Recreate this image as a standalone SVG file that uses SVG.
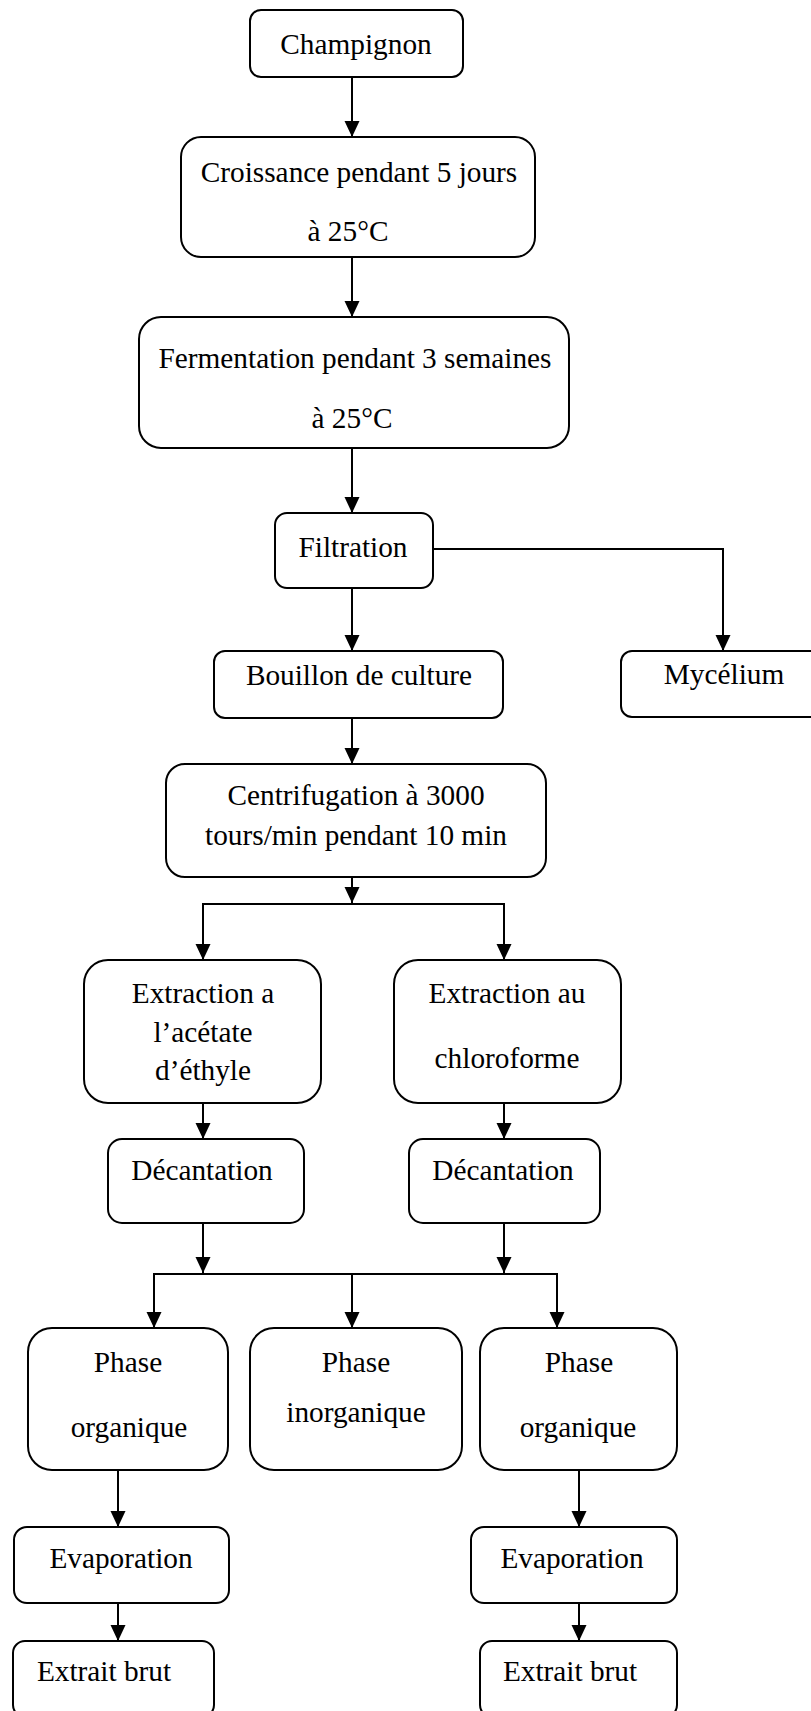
<svg xmlns="http://www.w3.org/2000/svg" width="811" height="1711" viewBox="0 0 811 1711">
<style>
.box{fill:#fff;stroke:#000;stroke-width:2}
.t{font-family:"Liberation Serif","Times New Roman",serif;font-size:29.3px;fill:#000;text-anchor:middle}
.c{fill:none;stroke:#000;stroke-width:2}
</style>
<defs>
<marker id="ah" markerUnits="userSpaceOnUse" markerWidth="16" markerHeight="16" refX="16" refY="7.5" orient="auto">
<path d="M0,0 L16,7.5 L0,15 z" fill="#000"/>
</marker>
</defs>
<rect width="811" height="1711" fill="#fff"/>
<g id="connectors">
<line class="c" x1="352" y1="77" x2="352" y2="137" marker-end="url(#ah)"/>
<line class="c" x1="352" y1="257" x2="352" y2="317" marker-end="url(#ah)"/>
<line class="c" x1="352" y1="448" x2="352" y2="513" marker-end="url(#ah)"/>
<line class="c" x1="352" y1="588" x2="352" y2="651" marker-end="url(#ah)"/>
<polyline class="c" points="433,549 723,549 723,651" marker-end="url(#ah)"/>
<line class="c" x1="352" y1="718" x2="352" y2="764" marker-end="url(#ah)"/>
<line class="c" x1="352" y1="877" x2="352" y2="903" marker-end="url(#ah)"/>
<polyline class="c" points="203,960 203,904 504,904 504,960" marker-end="url(#ah)"/>
<line class="c" x1="203" y1="904" x2="203" y2="960" marker-end="url(#ah)"/>
<line class="c" x1="203" y1="1103" x2="203" y2="1139" marker-end="url(#ah)"/>
<line class="c" x1="504" y1="1103" x2="504" y2="1139" marker-end="url(#ah)"/>
<line class="c" x1="203" y1="1223" x2="203" y2="1273" marker-end="url(#ah)"/>
<line class="c" x1="504" y1="1223" x2="504" y2="1273" marker-end="url(#ah)"/>
<polyline class="c" points="154,1328 154,1274 557,1274 557,1328" marker-end="url(#ah)"/>
<line class="c" x1="154" y1="1274" x2="154" y2="1328" marker-end="url(#ah)"/>
<line class="c" x1="352" y1="1274" x2="352" y2="1328" marker-end="url(#ah)"/>
<line class="c" x1="118" y1="1470" x2="118" y2="1527" marker-end="url(#ah)"/>
<line class="c" x1="579" y1="1470" x2="579" y2="1527" marker-end="url(#ah)"/>
<line class="c" x1="118" y1="1603" x2="118" y2="1641" marker-end="url(#ah)"/>
<line class="c" x1="579" y1="1603" x2="579" y2="1641" marker-end="url(#ah)"/>
</g>
<g id="champignon"><rect class="box" x="250" y="10" width="213" height="67" rx="11"/><text class="t" x="356" y="54">Champignon</text></g>
<g id="croissance"><rect class="box" x="181" y="137" width="354" height="120" rx="20"/><text class="t" x="359" y="182">Croissance pendant 5 jours</text><text class="t" x="348" y="241">à 25°C</text></g>
<g id="fermentation"><rect class="box" x="139" y="317" width="430" height="131" rx="22"/><text class="t" x="355" y="368">Fermentation pendant 3 semaines</text><text class="t" x="352" y="428">à 25°C</text></g>
<g id="filtration"><rect class="box" x="275" y="513" width="158" height="75" rx="12"/><text class="t" x="353" y="557">Filtration</text></g>
<g id="bouillon"><rect class="box" x="214" y="651" width="289" height="67" rx="11"/><text class="t" x="359" y="685">Bouillon de culture</text></g>
<g id="mycelium"><rect class="box" x="621" y="651" width="210" height="66" rx="11"/><text class="t" x="724" y="684">Mycélium</text></g>
<g id="centrifugation"><rect class="box" x="166" y="764" width="380" height="113" rx="19"/><text class="t" x="356" y="805">Centrifugation à 3000</text><text class="t" x="356" y="845">tours/min pendant 10 min</text></g>
<g id="extraction-acetate"><rect class="box" x="84" y="960" width="237" height="143" rx="24"/><text class="t" x="203" y="1003">Extraction a</text><text class="t" x="203" y="1042">l’acétate</text><text class="t" x="203" y="1080">d’éthyle</text></g>
<g id="extraction-chloroforme"><rect class="box" x="394" y="960" width="227" height="143" rx="24"/><text class="t" x="507" y="1003">Extraction au</text><text class="t" x="507" y="1068">chloroforme</text></g>
<g id="decantation-1"><rect class="box" x="108" y="1139" width="196" height="84" rx="14"/><text class="t" x="202" y="1180">Décantation</text></g>
<g id="decantation-2"><rect class="box" x="409" y="1139" width="191" height="84" rx="14"/><text class="t" x="503" y="1180">Décantation</text></g>
<g id="phase-organique-1"><rect class="box" x="28" y="1328" width="200" height="142" rx="24"/><text class="t" x="128" y="1372">Phase</text><text class="t" x="129" y="1437">organique</text></g>
<g id="phase-inorganique"><rect class="box" x="250" y="1328" width="212" height="142" rx="24"/><text class="t" x="356" y="1372">Phase</text><text class="t" x="356" y="1422">inorganique</text></g>
<g id="phase-organique-2"><rect class="box" x="480" y="1328" width="197" height="142" rx="24"/><text class="t" x="579" y="1372">Phase</text><text class="t" x="578" y="1437">organique</text></g>
<g id="evaporation-1"><rect class="box" x="14" y="1527" width="215" height="76" rx="13"/><text class="t" x="121" y="1568">Evaporation</text></g>
<g id="evaporation-2"><rect class="box" x="471" y="1527" width="206" height="76" rx="13"/><text class="t" x="572" y="1568">Evaporation</text></g>
<g id="extrait-brut-1"><rect class="box" x="13" y="1641" width="201" height="76" rx="12"/><text class="t" x="104" y="1681">Extrait brut</text></g>
<g id="extrait-brut-2"><rect class="box" x="480" y="1641" width="197" height="76" rx="12"/><text class="t" x="570" y="1681">Extrait brut</text></g>
</svg>
